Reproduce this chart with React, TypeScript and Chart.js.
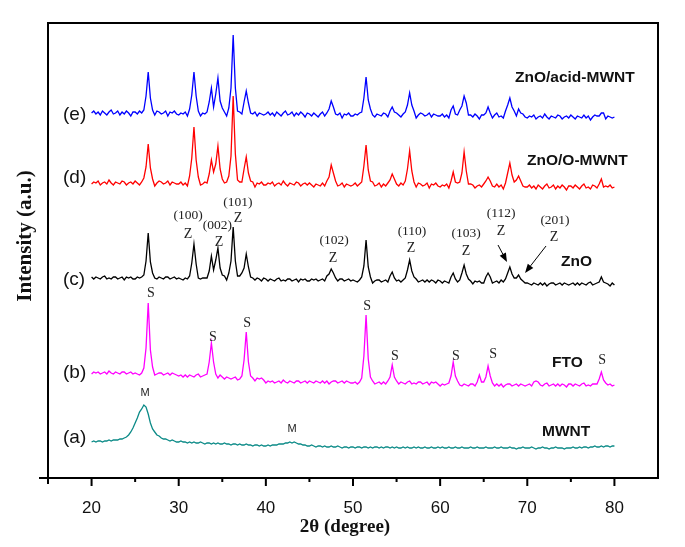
import React, { useEffect, useRef } from "react";
import { Chart, registerables } from "chart.js";

Chart.register(...registerables);

// 2θ grid (degrees), 0.25° step from 20 to 80
const twoTheta: number[] = Array.from({ length: 241 }, (_, i) => 20 + i * 0.25);

// (e) ZnO/acid-MWNT
const seriesE: number[] = [
  365,367,364,366,363,367,365,363,366,368,364,365,367,363,366,364,367,365,362,366,
  366,364,367,365,368,382,406,380,368,363,367,366,364,365,367,362,366,365,367,364,
  363,365,364,366,362,369,383,406,382,367,362,365,364,366,376,390,371,384,400,377,
  370,366,362,370,390,443,390,367,366,364,376,387,375,365,364,366,362,365,364,363,
  364,366,363,365,362,366,364,362,365,367,363,364,366,362,365,363,366,364,361,365,
  364,362,365,363,361,364,366,362,365,369,377,371,364,363,365,360,364,363,365,362,
  362,364,363,365,366,380,401,378,369,363,361,364,363,362,365,364,361,367,371,366,
  365,363,361,364,366,373,385,373,367,360,363,365,364,362,363,365,361,364,363,362,
  362,364,361,363,360,368,372,364,363,368,372,382,375,363,363,361,364,362,359,363,
  363,365,371,365,360,363,365,361,362,360,367,373,380,371,367,362,369,365,364,361,
  360,362,361,363,359,361,362,360,364,361,359,362,361,360,363,362,359,361,362,360,
  363,361,359,362,361,360,363,360,362,358,361,363,362,362,365,365,359,362,361,360,
  361,
];

// (d) ZnO/O-MWNT
const seriesD: number[] = [
  294,296,295,297,293,295,296,294,298,295,293,296,295,294,297,296,293,295,296,294,
  297,295,293,296,300,311,334,310,299,292,295,297,296,294,295,297,293,296,295,294,
  294,296,293,295,292,302,320,351,318,301,293,294,296,295,304,318,306,314,332,309,
  299,295,296,302,322,382,324,298,296,296,309,321,305,297,296,291,295,294,296,293,
  293,295,294,296,292,294,295,293,297,294,292,295,294,293,296,295,292,294,295,293,
  295,293,291,294,293,292,295,292,297,301,313,305,297,292,293,295,291,294,293,292,
  293,295,292,294,296,312,333,308,297,296,292,293,295,291,294,292,295,298,304,299,
  294,292,295,293,297,309,327,307,296,291,295,294,292,293,295,290,294,293,295,292,
  291,293,292,294,290,297,306,296,295,296,305,326,307,294,294,293,290,292,293,291,
  294,297,301,297,292,291,294,291,293,289,295,305,315,303,296,298,302,297,292,291,
  291,293,290,292,289,293,291,289,292,294,290,291,293,289,292,290,293,291,288,292,
  292,290,293,291,289,292,294,290,291,289,293,292,290,294,299,291,292,291,293,290,
  291,
];

// (c) ZnO
const seriesC: number[] = [
  201,199,201,200,199,201,202,199,200,199,201,201,199,200,201,198,201,200,201,199,
  199,201,200,201,203,217,245,216,205,200,199,201,200,199,201,201,199,200,201,199,
  200,199,198,200,199,202,215,234,214,200,199,200,200,200,207,222,208,218,230,210,
  203,202,198,205,217,251,217,202,202,205,210,224,211,201,200,198,200,199,197,200,
  199,197,199,198,197,199,200,197,198,197,199,199,197,198,199,196,199,198,199,197,
  197,199,198,199,197,198,199,197,202,204,209,205,200,197,199,199,197,198,199,197,
  198,197,196,198,201,212,238,211,201,195,197,198,198,196,197,198,196,202,206,200,
  197,198,196,198,200,208,218,207,201,199,196,197,198,196,198,196,198,197,195,198,
  197,195,197,196,195,201,205,199,196,198,205,213,204,199,197,194,197,196,197,195,
  195,201,205,201,195,196,197,195,198,196,199,205,211,204,200,200,203,199,197,195,
  195,194,193,195,194,193,195,193,195,192,194,195,195,193,194,195,193,195,194,193,
  194,195,193,195,193,195,194,193,195,196,193,194,195,196,201,196,195,194,192,195,
  193,
];

// (b) FTO
const seriesB: number[] = [
  104,106,105,106,104,105,106,104,107,105,104,106,105,104,106,106,104,105,106,104,
  105,104,103,105,110,130,175,128,111,103,104,105,105,103,104,105,103,105,104,103,
  102,103,101,103,101,103,102,101,103,104,101,102,103,104,116,135,116,104,100,103,
  101,99,101,100,99,100,101,98,99,102,118,146,116,102,100,97,100,99,100,98,
  95,97,96,97,95,96,97,95,98,96,95,97,96,95,97,97,95,96,97,95,
  97,96,95,97,96,95,97,95,97,94,96,97,97,95,96,97,95,97,96,95,
  95,96,94,96,100,122,163,119,101,97,94,95,96,94,96,94,97,101,113,101,
  97,94,96,95,94,96,97,94,95,94,96,96,94,95,96,93,96,95,96,94,
  92,94,93,94,95,102,116,102,97,93,92,94,93,92,94,94,92,96,103,96,
  96,101,112,102,95,92,94,92,94,91,93,94,94,92,93,94,92,94,93,92,
  93,94,92,96,97,96,93,92,94,95,92,93,94,92,94,92,94,93,91,94,
  94,92,94,93,92,94,95,92,93,92,94,94,94,99,106,98,95,93,94,92,
  93,
];

// (a) MWNT
const seriesA: number[] = [
  36,37,36,37,37,36,37,37,38,37,38,38,38,39,39,40,41,43,46,50,
  55,60,66,69,73,71,64,55,49,46,43,42,40,39,39,38,37,38,37,36,
  36,37,36,36,35,36,35,36,35,35,36,35,34,35,35,34,35,34,35,34,
  34,35,34,34,33,34,34,33,34,33,33,34,33,33,32,33,33,32,33,32,
  32,33,32,33,33,33,34,34,34,35,35,36,35,36,35,34,34,33,33,32,
  32,33,32,31,32,32,31,32,31,31,32,31,31,32,31,30,31,31,30,31,
  31,30,31,31,30,31,31,30,31,30,31,31,30,31,30,31,31,30,31,30,
  31,30,30,31,30,31,30,30,31,30,31,30,30,31,30,30,31,30,30,31,
  30,31,30,30,31,30,30,31,30,30,31,30,30,30,31,30,30,31,30,30,
  30,31,30,30,30,31,30,30,31,30,30,30,31,30,30,29,30,30,31,30,
  30,30,31,30,29,30,30,31,30,30,29,30,30,31,30,30,30,29,30,30,
  30,31,30,30,31,30,31,31,30,31,31,32,31,31,32,31,32,32,31,32,
  32,
];

const seriesNames = ["ZnO/acid-MWNT", "ZnO/O-MWNT", "ZnO", "FTO", "MWNT"];
const seriesTags = ["(e)", "(d)", "(c)", "(b)", "(a)"];
const seriesColors = ["#0000ff", "#ff0000", "#000000", "#ff00ff", "#0b8a87"];
const seriesValues = [seriesE, seriesD, seriesC, seriesB, seriesA];

// annotation anchors in data coordinates (2θ, intensity)
const tagX = 16.72;
const tagY = [363, 300, 198, 105, 40];
const nameX = [68.59, 69.97, 73.87, 72.84, 71.69];
const nameY = [400, 317, 216, 115, 46];

const millerText = ["(100)", "(002)", "(101)", "(102)", "(110)", "(103)", "(112)", "(201)"];
const millerX = [31.07, 34.45, 36.8, 47.82, 56.77, 62.97, 66.99, 73.18];
const millerY = [263, 253, 276, 238, 247, 245, 265, 258];
const zX = [31.07, 34.62, 36.8, 47.71, 56.66, 62.97, 66.99, 73.07];
const zY = [244, 236, 260, 220, 230, 227, 247, 241];

const sX = [26.82, 33.93, 37.84, 51.61, 54.82, 61.82, 66.07, 78.58];
const sY = [185, 141, 155, 172, 122, 122, 124, 118];
const mX = [26.13, 43.0];
const mY = [85, 49];

// arrows [fromX, fromY, toX, toY]
const arrows = [
  [66.64, 233, 67.67, 216],
  [72.15, 232, 69.74, 205],
];

const xMajorTicks = [20, 30, 40, 50, 60, 70, 80];
const xMinorTicks = [25, 35, 45, 55, 65, 75];

export default function App() {
  const ref = useRef<HTMLCanvasElement | null>(null);

  useEffect(() => {
    document.body.style.margin = "0";
    const canvas = ref.current;
    if (!canvas) return;

    const overlay = {
      id: "xrdOverlay",
      afterDraw(chart: any) {
        const ctx = chart.ctx as CanvasRenderingContext2D;
        const a = chart.chartArea;
        const xs = chart.scales.x;
        const ys = chart.scales.y;
        const px = (v: number) => xs.getPixelForValue(v);
        const py = (v: number) => ys.getPixelForValue(v);
        ctx.save();
        // frame
        ctx.strokeStyle = "#000";
        ctx.lineWidth = 2;
        ctx.beginPath();
        ctx.moveTo(a.left - 9, a.bottom);
        ctx.lineTo(a.right, a.bottom);
        ctx.lineTo(a.right, a.top);
        ctx.lineTo(a.left, a.top);
        ctx.lineTo(a.left, a.bottom + 6);
        ctx.stroke();
        // ticks
        ctx.beginPath();
        for (const t of xMajorTicks) {
          ctx.moveTo(px(t), a.bottom);
          ctx.lineTo(px(t), a.bottom + 8);
        }
        for (const t of xMinorTicks) {
          ctx.moveTo(px(t), a.bottom);
          ctx.lineTo(px(t), a.bottom + 4);
        }
        ctx.stroke();

        // sample tags
        ctx.fillStyle = "#111";
        ctx.textBaseline = "middle";
        ctx.textAlign = "left";
        ctx.font = '19px "Liberation Sans", Arial, sans-serif';
        seriesTags.forEach((t, i) => ctx.fillText(t, px(tagX), py(tagY[i])));
        // names
        ctx.font = 'bold 15.5px "Liberation Sans", Arial, sans-serif';
        seriesNames.forEach((t, i) => ctx.fillText(t, px(nameX[i]), py(nameY[i])));

        // miller indices & Z
        ctx.textAlign = "center";
        ctx.fillStyle = "#222";
        ctx.font = '13.5px "Liberation Serif", "Times New Roman", serif';
        millerText.forEach((t, i) => ctx.fillText(t, px(millerX[i]), py(millerY[i])));
        ctx.font = '14px "Liberation Serif", "Times New Roman", serif';
        zX.forEach((x, i) => ctx.fillText("Z", px(x), py(zY[i])));
        sX.forEach((x, i) => ctx.fillText("S", px(x), py(sY[i])));
        ctx.font = '11px "Liberation Sans", Arial, sans-serif';
        mX.forEach((x, i) => ctx.fillText("M", px(x), py(mY[i])));

        // arrows
        ctx.strokeStyle = "#000";
        ctx.fillStyle = "#000";
        ctx.lineWidth = 1;
        for (const [x0, y0, x1, y1] of arrows) {
          const X0 = px(x0), Y0 = py(y0), X1 = px(x1), Y1 = py(y1);
          const ang = Math.atan2(Y1 - Y0, X1 - X0);
          const hl = 9, hw = 3.5;
          const bx = X1 - hl * Math.cos(ang), by = Y1 - hl * Math.sin(ang);
          ctx.beginPath();
          ctx.moveTo(X0, Y0);
          ctx.lineTo(bx, by);
          ctx.stroke();
          ctx.beginPath();
          ctx.moveTo(X1, Y1);
          ctx.lineTo(bx + hw * Math.sin(ang), by - hw * Math.cos(ang));
          ctx.lineTo(bx - hw * Math.sin(ang), by + hw * Math.cos(ang));
          ctx.closePath();
          ctx.fill();
        }

        // axis titles
        ctx.fillStyle = "#111";
        ctx.font = 'bold 19px "Liberation Serif", "Times New Roman", serif';
        ctx.textAlign = "center";
        ctx.fillText("2θ (degree)", 345, 527);
        ctx.save();
        ctx.translate(26, 236);
        ctx.rotate(-Math.PI / 2);
        ctx.font = 'bold 21px "Liberation Serif", "Times New Roman", serif';
        ctx.fillText("Intensity (a.u.)", 0, 0);
        ctx.restore();
        ctx.restore();
      },
    };

    const chart = new Chart(canvas, {
      type: "line",
      data: {
        datasets: seriesValues.map((vals, i) => ({
          label: seriesNames[i],
          data: twoTheta.map((x, j) => ({ x, y: vals[j] })),
          borderColor: seriesColors[i],
          borderWidth: 1.3,
          pointRadius: 0,
          fill: false,
          tension: 0,
        })),
      },
      options: {
        responsive: false,
        maintainAspectRatio: false,
        animation: false,
        events: [],
        layout: { padding: { top: 23, right: 27, left: 48, bottom: 0 } },
        plugins: { legend: { display: false }, tooltip: { enabled: false }, title: { display: false } },
        scales: {
          x: {
            type: "linear",
            min: 15,
            max: 85,
            grid: { display: false },
            border: { display: false },
            ticks: {
              stepSize: 5,
              autoSkip: false,
              maxRotation: 0,
              padding: 12,
              color: "#111",
              font: { family: '"Liberation Sans", Arial, sans-serif', size: 17 },
              callback: (v: any) => (Number(v) % 10 === 0 && v >= 20 && v <= 80 ? String(v) : ""),
            },
            afterFit: (s: any) => {
              s.height = 69;
            },
          },
          y: {
            display: false,
            min: 0,
            max: 455,
          },
        },
      },
      plugins: [overlay],
    });

    return () => chart.destroy();
  }, []);

  return <canvas ref={ref} width={685} height={547} style={{ width: 685, height: 547, display: "block" }} />;
}
